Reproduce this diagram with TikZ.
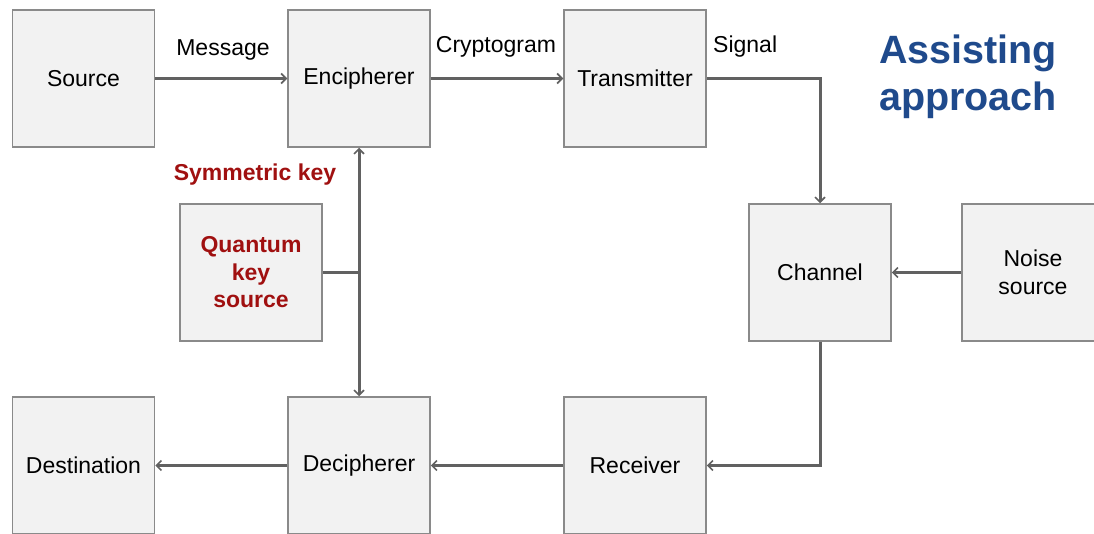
\documentclass[tikz,border=0pt]{standalone}
\usepackage{fontspec}
\setmainfont{Liberation Sans}
\usetikzlibrary{arrows.meta}
\definecolor{boxfill}{HTML}{F2F2F2}
\definecolor{boxline}{HTML}{8A8A8A}
\definecolor{wire}{HTML}{616161}
\definecolor{keyred}{HTML}{A01010}
\definecolor{titleblue}{HTML}{1F4A8C}
\tikzset{
  blk/.style={draw=boxline, fill=boxfill, line width=1.5pt, minimum width=142pt, minimum height=137pt, inner sep=0pt, align=center, font=\fontsize{23}{27.5}\selectfont},
  wireline/.style={draw=wire, line width=3pt},
  flow/.style={wireline, -{Straight Barb[length=5pt,width=10pt,line width=1.6pt]}},
  lbl/.style={font=\fontsize{23}{27}\selectfont, inner sep=0pt},
  keylbl/.style={font=\bfseries\fontsize{23}{27.5}\selectfont, text=keyred, inner sep=0pt, align=center},
}
\begin{document}
\begin{tikzpicture}[x=1pt,y=-1pt]
\useasboundingbox (0,0) rectangle (1094,534);
\node[blk] (src) at (83.5,78.5) {Source};
\node[blk] (enc) at (359,78.5) {Encipherer};
\node[blk] (tx) at (635,78.5) {Transmitter};
\node[blk] (ch) at (820,272.5) {Channel};
\node[blk] (noise) at (1033,272.5) {Noise\\source};
\node[blk] (qks) at (251,272.5) {};
\node[keylbl] at (qks.center) {Quantum\\key\\source};
\node[blk] (dst) at (83.5,465.5) {Destination};
\node[blk] (dec) at (359,465.5) {Decipherer};
\node[blk] (rx) at (635,465.5) {Receiver};

\coordinate (j) at (enc.south |- qks.east);
\coordinate (c1) at (ch.north |- tx.east);
\coordinate (c2) at (ch.south |- rx.east);

\draw[flow] (src.east) -- (enc.west);
\draw[flow] (enc.east) -- (tx.west);
\draw[flow] (tx.east) -- (c1) -- (ch.north);
\draw[flow] (noise.west) -- (ch.east);
\draw[flow] (ch.south) -- (c2) -- (rx.east);
\draw[flow] (rx.west) -- (dec.east);
\draw[flow] (dec.west) -- (dst.east);
\draw[wireline] (qks.east) -- (j);
\draw[flow] (j) -- (enc.south);
\draw[flow] (j) -- (dec.north);

\node[lbl] (m) at (223,50) {Message};
\node[lbl] (cg) at (496,47) {Cryptogram};
\node[lbl, anchor=west] (sg) at (713,47) {Signal};
\node[keylbl] (sk) at (255,175) {Symmetric key};
\node[font=\bfseries\fontsize{39.5}{47}\selectfont, text=titleblue, align=left, anchor=north west, inner sep=0pt] (title) at (879,35) {Assisting\\approach};
\end{tikzpicture}
\end{document}
